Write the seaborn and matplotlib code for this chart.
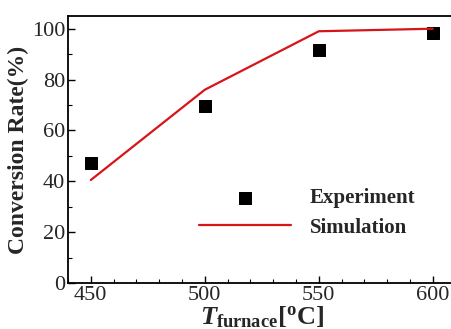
import numpy as np
import pandas as pd
import matplotlib
matplotlib.use('Agg')
import matplotlib.pyplot as plt
import seaborn as sns
from matplotlib.ticker import MultipleLocator

# ── data ────────────────────────────────────────────────────
temps = [450, 500, 550, 600]
experiment = [47.0, 69.5, 91.5, 98.5]
simulation = [40.5, 76.0, 99.0, 100.0]

sns.set_theme(style='ticks')
plt.rcParams['font.family'] = ['Liberation Serif', 'DejaVu Serif']
plt.rcParams['mathtext.fontset'] = 'custom'
plt.rcParams['mathtext.rm'] = 'Liberation Serif'
plt.rcParams['mathtext.bf'] = 'Liberation Serif:bold'
plt.rcParams['mathtext.it'] = 'Liberation Serif:bold:italic'

df = pd.DataFrame({'T': temps, 'exp': experiment, 'sim': simulation})

fig = plt.figure(figsize=(4.52, 3.29), dpi=100)
ax = fig.add_axes([68 / 452, 1 - 283 / 329, 420 / 452, (283 - 16) / 329])

sns.lineplot(data=df, x='T', y='sim', ax=ax, color='#d7141a', lw=1.6, label='Simulation')
sns.scatterplot(data=df, x='T', y='exp', ax=ax, color='black', marker='s', s=80,
                edgecolor='black', label='Experiment')

ax.set_xlim(440, 624.2)
ax.set_ylim(0, 105)
ax.xaxis.set_major_locator(MultipleLocator(50))
ax.xaxis.set_minor_locator(MultipleLocator(10))
ax.yaxis.set_major_locator(MultipleLocator(20))
ax.yaxis.set_minor_locator(MultipleLocator(10))
ax.tick_params(which='both', direction='in', top=False, right=False, labelsize=16, color='black')
ax.tick_params(which='major', length=5, width=1, pad=2)
ax.tick_params(which='minor', length=3, width=0.8)
for s in ax.spines.values():
    s.set_color('black')
    s.set_linewidth(1.3)

ax.set_ylabel('Conversion Rate(%)', fontsize=17, fontweight='bold', labelpad=2)
ax.set_xlabel(r'$\mathit{T}_{\mathbf{furnace}}\mathbf{[}^{\mathbf{o}}\mathbf{C]}$',
              fontsize=19, labelpad=0)
ax.xaxis.set_label_coords(0.462, -0.082, transform=ax.transAxes)
ax.xaxis.label.set_va('top')

h, l = ax.get_legend_handles_labels()
leg = ax.legend(h[::-1], l[::-1], loc='lower left', bbox_to_anchor=(0.268, 0.10),
                frameon=False, prop={'weight': 'bold', 'size': 15},
                handlelength=4.4, handletextpad=0.9, labelspacing=0.45)

plt.savefig('out.png', dpi=100)
